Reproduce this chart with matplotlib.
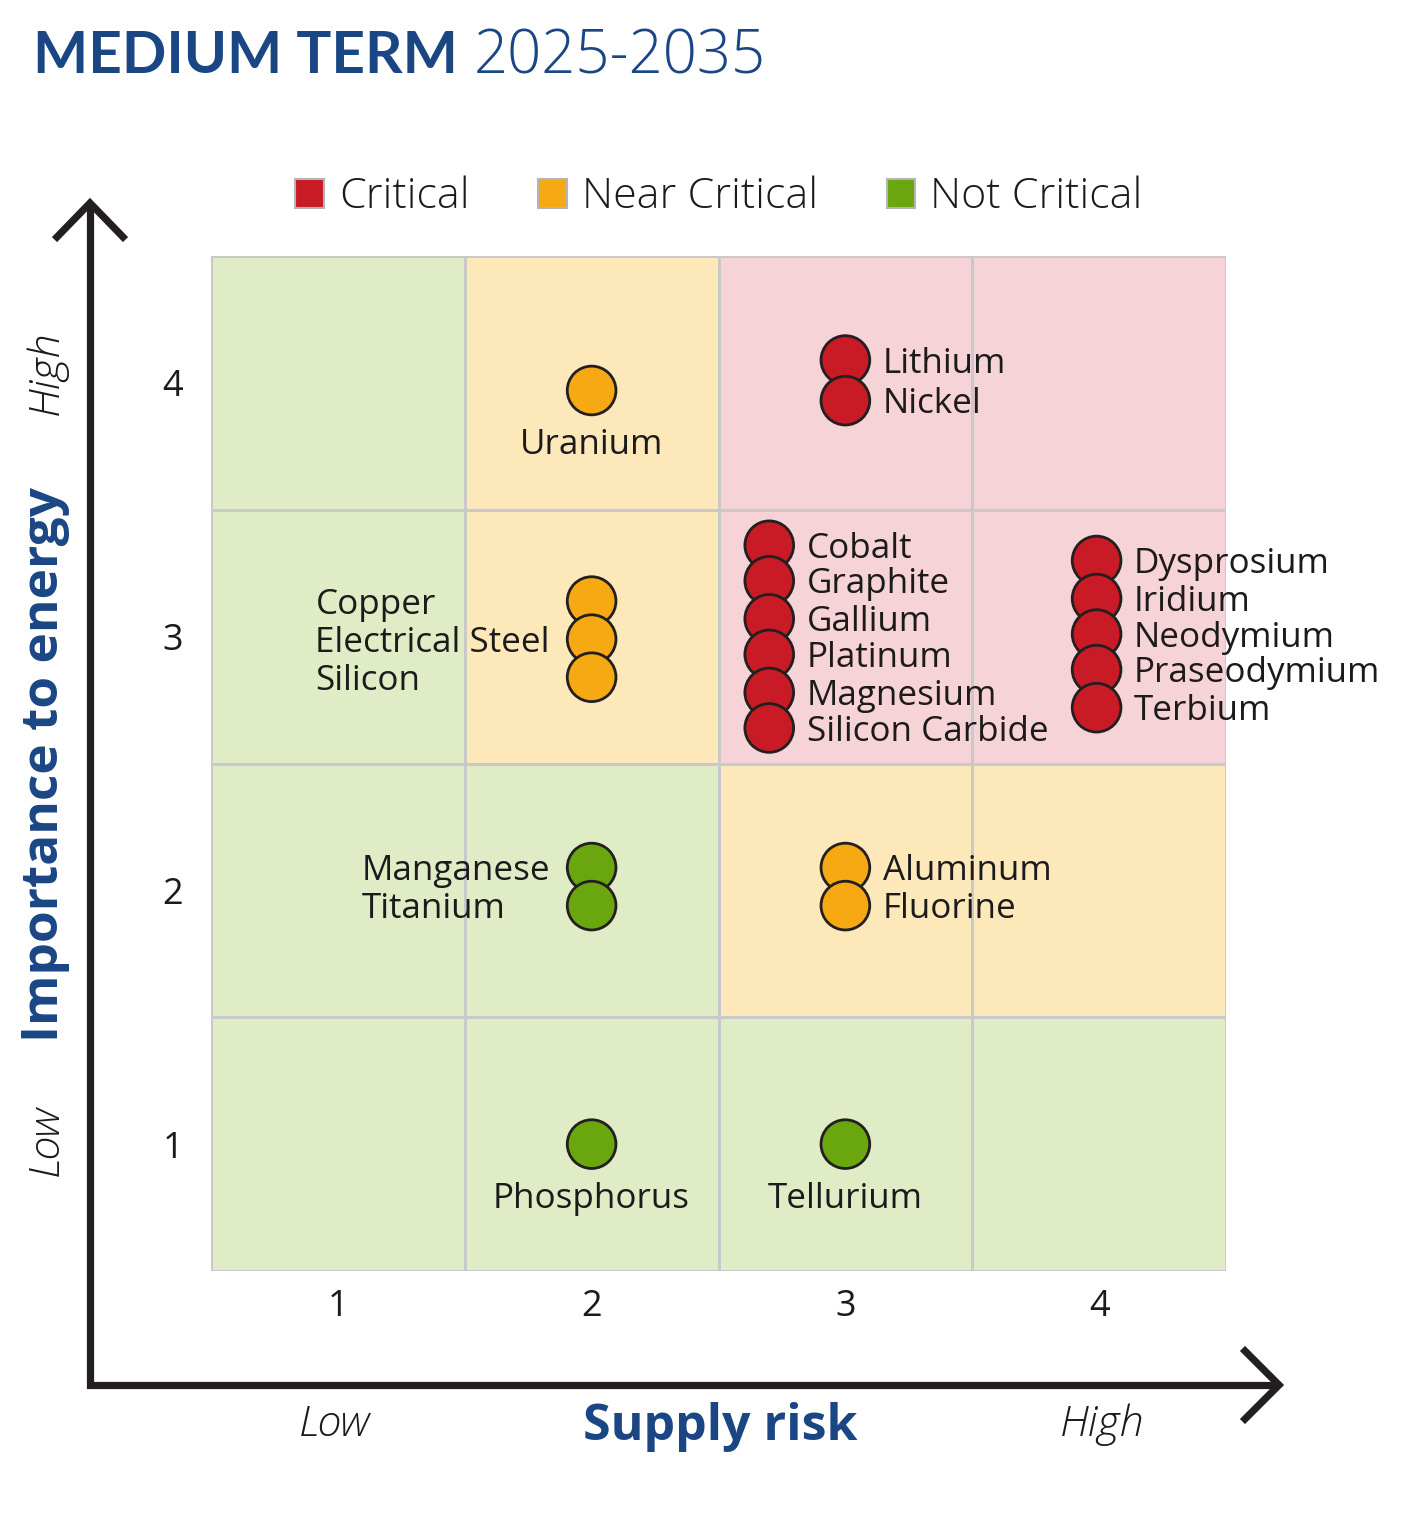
import matplotlib.pyplot as plt
from matplotlib.colors import ListedColormap
from matplotlib.patches import Patch
import numpy as np

plt.rcParams['font.family'] = ['Open Sans', 'DejaVu Sans']

# --- data ---
levels = [1, 2, 3, 4]
status_names = ['Critical', 'Near Critical', 'Not Critical']
status_colors = ['#c81b25', '#f6a913', '#6aa70f']
zone_colors = ['#f5d3d6', '#fde8b9', '#e0ecc6']

# zone status per cell (rows: importance 1..4, cols: supply risk 1..4)
# 0 = critical, 1 = near critical, 2 = not critical
zones = [[2, 2, 2, 2],
         [2, 2, 1, 1],
         [2, 1, 0, 0],
         [2, 1, 0, 0]]

materials = ['Uranium', 'Lithium', 'Nickel',
             'Copper', 'Electrical Steel', 'Silicon',
             'Cobalt', 'Graphite', 'Gallium', 'Platinum', 'Magnesium', 'Silicon Carbide',
             'Dysprosium', 'Iridium', 'Neodymium', 'Praseodymium', 'Terbium',
             'Manganese', 'Titanium', 'Aluminum', 'Fluorine',
             'Phosphorus', 'Tellurium']
supply = [2.0, 3.0, 3.0,
          2.0, 2.0, 2.0,
          2.7, 2.7, 2.7, 2.7, 2.7, 2.7,
          3.99, 3.99, 3.99, 3.99, 3.99,
          2.0, 2.0, 3.0, 3.0,
          2.0, 3.0]
importance = [3.97, 4.09, 3.93,
              3.14, 2.99, 2.84,
              3.36, 3.22, 3.07, 2.93, 2.78, 2.64,
              3.30, 3.15, 3.01, 2.87, 2.72,
              2.09, 1.94, 2.09, 1.94,
              1.0, 1.0]
status = [1, 0, 0,
          1, 1, 1,
          0, 0, 0, 0, 0, 0,
          0, 0, 0, 0, 0,
          2, 2, 1, 1,
          2, 2]
label_side = ['below', 'right', 'right',
              'left', 'left', 'left',
              'right', 'right', 'right', 'right', 'right', 'right',
              'right', 'right', 'right', 'right', 'right',
              'left', 'left', 'right', 'right',
              'below', 'below']

title_bold = 'MEDIUM TERM'
title_rest = '2025-2035'
blue = '#1a4784'
ink = '#1c1a1b'

fig = plt.figure(figsize=(14.2, 15.28), dpi=100)
W, H = 1420, 1528

ax = fig.add_axes([211 / W, 1 - 1271 / H, 1015 / W, 1015 / H])

# zone background cells
edges = np.arange(0.5, 5.0, 1.0)
ax.pcolormesh(edges, edges, np.array(zones), cmap=ListedColormap(zone_colors),
              vmin=-0.5, vmax=2.5, edgecolors='#c9c9c9', linewidth=2)

ax.scatter(supply, importance, s=1230,
           c=[status_colors[k] for k in status],
           edgecolors='#231f20', linewidths=2.0, zorder=3)

ax.set_xlim(0.5, 4.5)
ax.set_ylim(0.5, 4.5)
ax.set_xticks(levels)
ax.set_yticks(levels)
ax.tick_params(length=0, labelsize=26, pad=13, labelcolor=ink)
ax.tick_params(axis='y', pad=20)
for s in ax.spines.values():
    s.set_visible(False)

# labels next to markers
fs = 25.2
cap = 0.36 * fs
left_texts = {}
for name, x, y, side in zip(materials, supply, importance, label_side):
    if side == 'right':
        ax.annotate(name, (x, y), xytext=(27, -cap), textcoords='offset points',
                    ha='left', va='baseline', fontsize=fs, color=ink,
                    fontweight='medium', zorder=4)
    elif side == 'below':
        ax.annotate(name, (x, y), xytext=(0, -46), textcoords='offset points',
                    ha='center', va='baseline', fontsize=fs, color=ink,
                    fontweight='medium', zorder=4)
    else:
        t = ax.annotate(name, (x, y), xytext=(-27, -cap), textcoords='offset points',
                        ha='right', va='baseline', fontsize=fs, color=ink,
                        fontweight='medium', zorder=4)
        left_texts.setdefault((x, round(y)), []).append(t)

# left-side groups: align text to the left edge of the widest line
fig.canvas.draw()
r = fig.canvas.get_renderer()
for grp in left_texts.values():
    wmax = max(t.get_window_extent(r).width for t in grp) * 72 / fig.dpi
    for t in grp:
        t.set_ha('left')
        t.set_position((-30 - wmax, -cap))

# legend
handles = [Patch(facecolor=c, edgecolor='#b5b5b5', linewidth=1.5) for c in status_colors]
leg = fig.legend(handles, status_names, loc='center', bbox_to_anchor=(719 / W, 1 - 197 / H),
                 ncol=3, frameon=False, fontsize=31, handlelength=0.66, handleheight=0.66,
                 handletextpad=0.35, columnspacing=1.6, labelcolor=ink)
for t in leg.get_texts():
    t.set_fontweight('light')

# decoration layer in pixel units: arrows, titles
deco = fig.add_axes([0, 0, 1, 1], zorder=-1)
deco.set_xlim(0, W)
deco.set_ylim(H, 0)
deco.axis('off')
deco.patch.set_alpha(0)

lw = 5.2
deco.plot([90, 90, 1279], [203, 1385, 1385], color='#231f20', lw=lw,
          solid_joinstyle='miter', solid_capstyle='butt')
deco.plot([57, 90, 123], [237, 203, 237], color='#231f20', lw=lw,
          solid_joinstyle='miter')
deco.plot([1245, 1279, 1245], [1351, 1385, 1419], color='#231f20', lw=lw,
          solid_joinstyle='miter')

t1 = deco.text(33, 73, title_bold, fontsize=42, fontweight='bold', color=blue,
               ha='left', va='baseline', family='Lato')
fig.canvas.draw()
bb = t1.get_window_extent(r)
deco.text(bb.x1 + 16, 73, title_rest, fontsize=43, color=blue, fontweight='light',
          ha='left', va='baseline')

deco.text(720, 1427, 'Supply risk', fontsize=36, fontweight='bold', color=blue,
          ha='center', va='center')
deco.text(335, 1425, 'Low', fontsize=31, style='italic', fontweight='light', color=ink,
          ha='center', va='center')
deco.text(1102, 1425, 'High', fontsize=31, style='italic', fontweight='light', color=ink,
          ha='center', va='center')

deco.text(45, 765, 'Importance to energy', fontsize=37, fontweight='bold', color=blue,
          ha='center', va='center', rotation=90)
deco.text(47, 373, 'High', fontsize=31, style='italic', fontweight='light', color=ink,
          ha='center', va='center', rotation=90)
deco.text(47, 1140, 'Low', fontsize=31, style='italic', fontweight='light', color=ink,
          ha='center', va='center', rotation=90)

fig.savefig('out.png', dpi=100)
